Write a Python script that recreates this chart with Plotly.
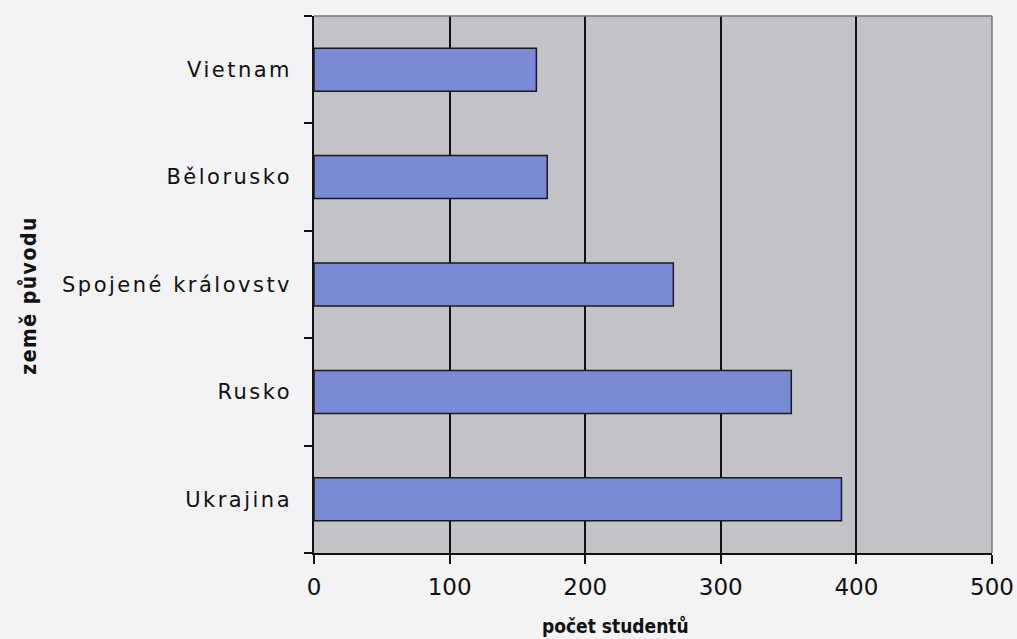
import plotly.graph_objects as go

# Countries of origin (bottom to top) and student counts
countries = ["Ukrajina", "Rusko", "Spojené královstv", "Bělorusko", "Vietnam"]
students = [389, 352, 265, 172, 164]

x_ticks = [0, 100, 200, 300, 400, 500]

page_bg = "#f3f3f5"
plot_bg = "#c3c2c7"
bar_fill = "#7a8ad6"
frame_grey = "#77777a"
ink = "#111111"
narrow_bold = "Liberation Sans Narrow, DejaVu Sans Condensed, Liberation Sans, sans-serif"


def spaced(text, px=2):
    return f'<span style="letter-spacing:{px}px">{text}</span>'


fig = go.Figure(
    go.Bar(
        x=students,
        y=countries,
        orientation="h",
        marker=dict(color=bar_fill, line=dict(color="#1a1a1a", width=1.5)),
        hoverinfo="x+y",
    )
)

fig.update_layout(
    width=1017,
    height=639,
    margin=dict(l=314, r=25, t=16, b=86),
    paper_bgcolor=page_bg,
    plot_bgcolor=plot_bg,
    bargap=0.6,
    showlegend=False,
    font=dict(family="DejaVu Sans", size=20, color=ink),
)

fig.update_xaxes(
    range=[0, 500],
    tickvals=x_ticks,
    ticktext=[str(v) for v in x_ticks],
    automargin=False,
    showgrid=True,
    gridcolor=ink,
    gridwidth=1.5,
    zeroline=False,
    showline=True,
    linecolor=ink,
    linewidth=1.5,
    ticks="outside",
    ticklen=9,
    tickwidth=1.5,
    tickcolor=ink,
    ticklabelstandoff=4,
    tickfont=dict(family="DejaVu Sans", size=23, color=ink),
)

fig.update_yaxes(
    categoryorder="array",
    categoryarray=countries,
    tickvals=countries,
    ticktext=[spaced(c, 2.5) for c in countries],
    tickson="boundaries",
    automargin=False,
    showgrid=False,
    zeroline=False,
    showline=True,
    linecolor=ink,
    linewidth=1.5,
    ticks="outside",
    ticklen=8,
    tickwidth=1.5,
    tickcolor=ink,
    ticklabelstandoff=16,
    tickfont=dict(family="DejaVu Sans", size=21, color=ink),
)

# axis titles, placed as paper-anchored annotations
fig.add_annotation(
    text="<b>počet studentů</b>",
    xref="paper", yref="paper", x=0.445, y=-0.161,
    xanchor="center", yanchor="bottom", showarrow=False,
    font=dict(family=narrow_bold, size=19, color=ink),
)
fig.add_annotation(
    text="<b>" + spaced("země původu", 1.5) + "</b>",
    xref="paper", yref="paper", x=-0.4196, y=0.48,
    xanchor="center", yanchor="middle", textangle=-90, showarrow=False,
    font=dict(family=narrow_bold, size=21, color=ink),
)

# thin grey frame along the top and right edges of the plot area
fig.add_shape(type="line", xref="paper", yref="paper", x0=0, x1=1, y0=1, y1=1,
              line=dict(color=frame_grey, width=1.5), layer="above")
fig.add_shape(type="line", xref="paper", yref="paper", x0=1, x1=1, y0=0, y1=1,
              line=dict(color=frame_grey, width=1.5), layer="above")

fig.write_html("out.html")
